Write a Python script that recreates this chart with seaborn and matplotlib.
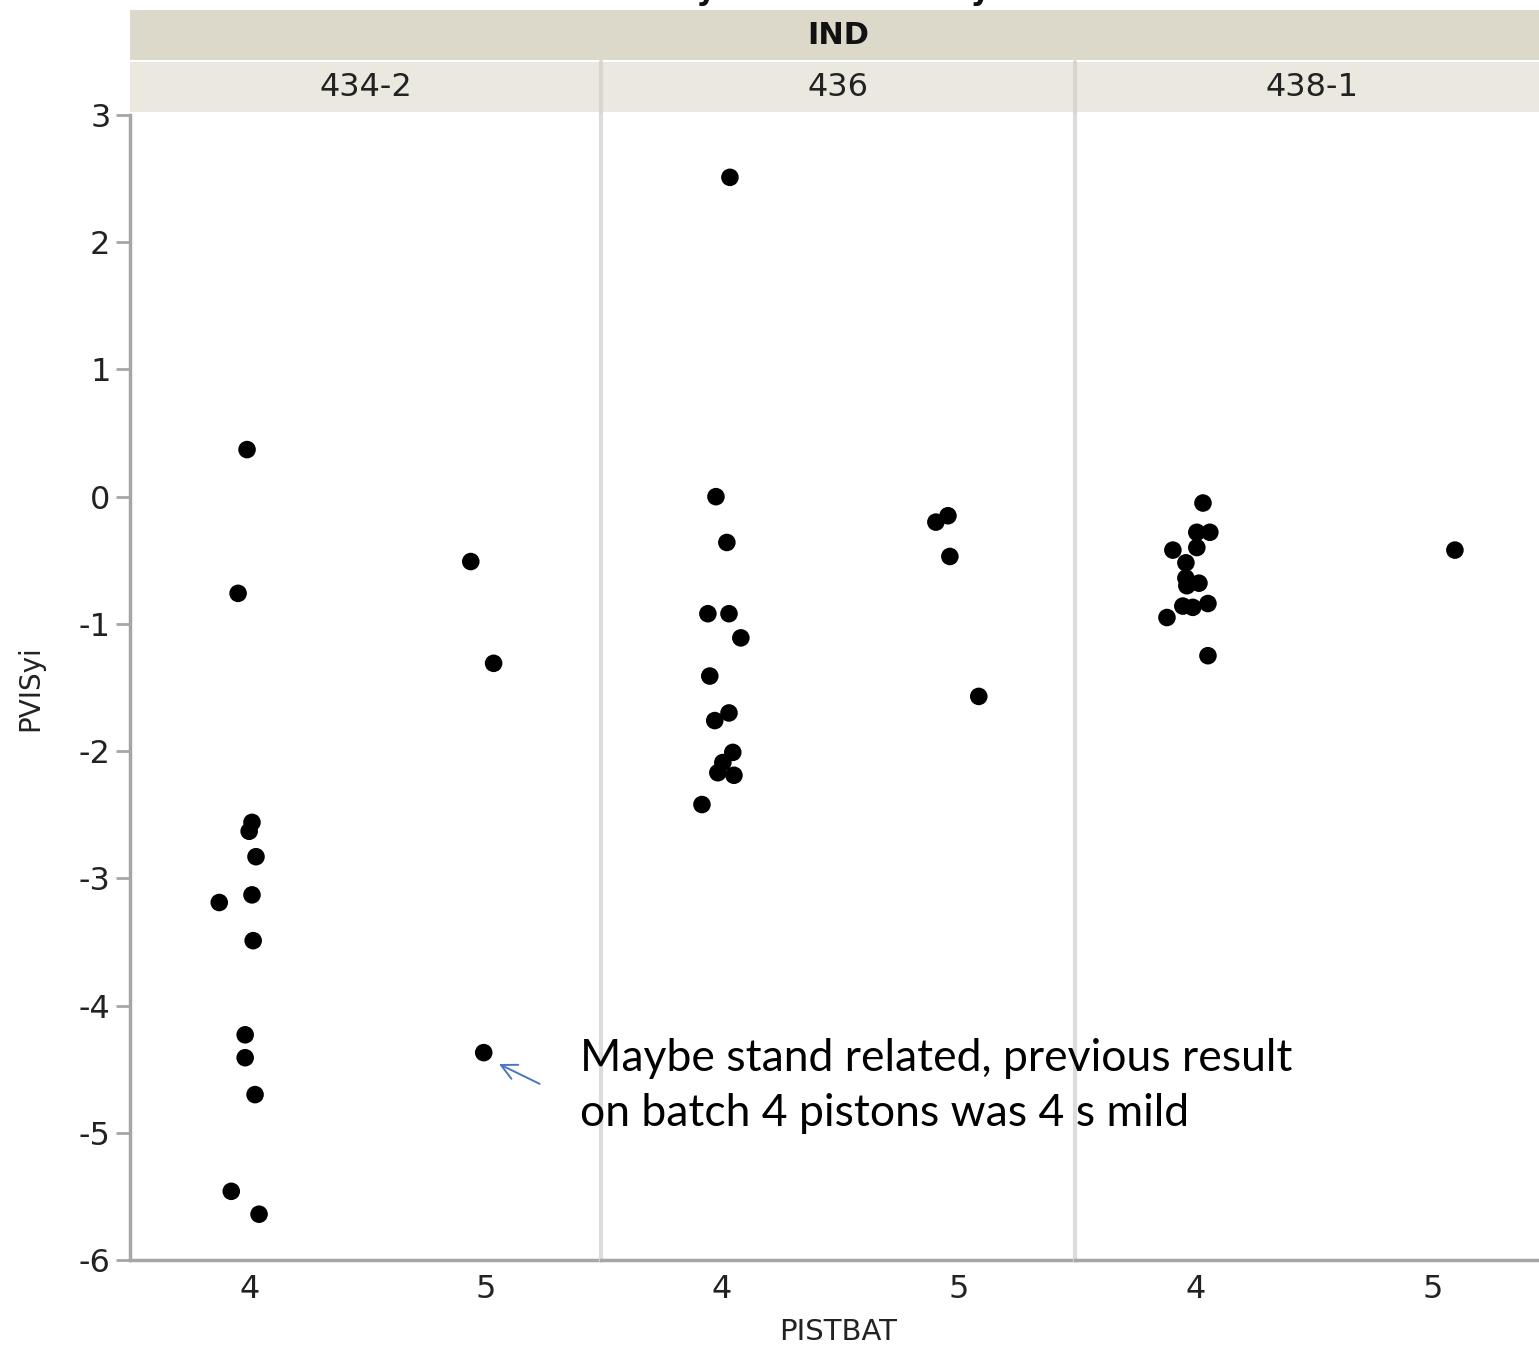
import numpy as np
import pandas as pd
import matplotlib
matplotlib.use("Agg")
import matplotlib.pyplot as plt
import seaborn as sns
from matplotlib.patches import Rectangle

sns.set_theme(style="white")
plt.rcParams['font.family'] = ['DejaVu Sans']

# ---------------- data ----------------
panels = ["434-2", "436", "438-1"]
batches = ["4", "5"]
group_header = "IND"

vals_434_2_b4 = [0.37, -0.76, -2.56, -2.63, -2.83, -3.19, -3.13, -3.49, -4.23, -4.41, -4.70, -5.46, -5.64]
jit_434_2_b4 = [-0.013, -0.051, 0.008, -0.004, 0.025, -0.131, 0.008, 0.013, -0.021, -0.021, 0.021, -0.080, 0.038]
vals_434_2_b5 = [-0.51, -1.31, -4.37]
jit_434_2_b5 = [-0.063, 0.034, -0.008]

vals_436_b4 = [2.51, 0.0, -0.36, -0.92, -0.92, -1.11, -1.41, -1.70, -1.76, -2.01, -2.09, -2.17, -2.19, -2.42]
jit_436_b4 = [0.034, -0.025, 0.021, -0.059, 0.030, 0.080, -0.051, 0.030, -0.030, 0.046, 0.004, -0.017, 0.051, -0.084]
vals_436_b5 = [-0.20, -0.15, -0.47, -1.57]
jit_436_b5 = [-0.097, -0.046, -0.038, 0.084]

vals_438_1_b4 = [-0.05, -0.28, -0.28, -0.40, -0.42, -0.52, -0.64, -0.70, -0.68, -0.86, -0.87, -0.84, -0.95, -1.25]
jit_438_1_b4 = [0.030, 0.004, 0.059, 0.004, -0.097, -0.042, -0.042, -0.038, 0.013, -0.055, -0.013, 0.051, -0.122, 0.051]
vals_438_1_b5 = [-0.42]
jit_438_1_b5 = [0.093]

y_ticks = [3, 2, 1, 0, -1, -2, -3, -4, -5, -6]
y_label = "PVISyi"
x_label = "PISTBAT"
title_text = "Variability Chart for PVISyi"
note_text = "Maybe stand related, previous result\non batch 4 pistons was 4 s mild"
note_target = ("434-2", "5", -4.37)

rows = []
for panel, sets in zip(panels, [
        [(vals_434_2_b4, jit_434_2_b4), (vals_434_2_b5, jit_434_2_b5)],
        [(vals_436_b4, jit_436_b4), (vals_436_b5, jit_436_b5)],
        [(vals_438_1_b4, jit_438_1_b4), (vals_438_1_b5, jit_438_1_b5)]]):
    for bi, (v, j) in enumerate(sets):
        for yy, jj in zip(v, j):
            rows.append({"IND": panel, "PISTBAT": batches[bi], "pos": bi + jj, "PVISyi": yy})
df = pd.DataFrame(rows)

# ---------------- layout ----------------
W, H = 1539, 1351
fig = plt.figure(figsize=(W / 100, H / 100), dpi=100)
fig.patch.set_facecolor("white")

def fx(px):
    return px / W

def fy(py):
    return 1 - py / H

top_px, bot_px = 115, 1260
edges = [130, 601, 1075, 1549]
axes = []
for i in range(3):
    l, r = edges[i], edges[i + 1]
    ax = fig.add_axes([fx(l), fy(bot_px), fx(r - l), (bot_px - top_px) / H],
                      sharey=axes[0] if axes else None)
    axes.append(ax)

light = "#dcdcdc"
dark = "#a6a6a6"
for i, (ax, panel) in enumerate(zip(axes, panels)):
    sub = df[df["IND"] == panel]
    sns.scatterplot(data=sub, x="pos", y="PVISyi", ax=ax, color="black",
                    s=160, edgecolor="none", legend=False, zorder=3, clip_on=False)
    ax.set_xlim(-0.51, 1.49)
    ax.set_ylim(-6, 3)
    ax.set_xticks([0, 1])
    ax.set_xticklabels(batches, fontsize=23, color="#222222")
    ax.tick_params(axis="x", length=0, pad=10)
    ax.set_xlabel("")
    ax.set_ylabel("")
    ax.set_facecolor("white")
    for s in ["top", "right"]:
        ax.spines[s].set_visible(False)
    ax.spines["bottom"].set_color(dark)
    ax.spines["bottom"].set_linewidth(2.5)
    if i == 0:
        ax.spines["left"].set_color(dark)
        ax.spines["left"].set_linewidth(2.5)
        ax.set_yticks(y_ticks)
        ax.set_yticklabels([str(t) for t in y_ticks], fontsize=23, color="#222222")
        ax.tick_params(axis="y", length=10, width=2, color=dark, pad=4, left=True)
    else:
        ax.spines["left"].set_color(light)
        ax.spines["left"].set_linewidth(3)
        ax.tick_params(axis="y", left=False, labelleft=False)

# header bands
fig.add_artist(Rectangle((fx(130), fy(60)), fx(1549 - 130), (60 - 10) / H,
                         transform=fig.transFigure, facecolor="#dcd9cb", edgecolor="none"))
for i in range(3):
    l, r = edges[i], edges[i + 1]
    fig.add_artist(Rectangle((fx(l), fy(112)), fx(r - l), (112 - 62) / H,
                             transform=fig.transFigure, facecolor="#ebe8e0",
                             edgecolor="none"))
    fig.text(fx((l + r) / 2), fy(87), panels[i], ha="center", va="center",
             fontsize=23, color="#222222")
for xe in edges[1:3]:
    fig.add_artist(plt.Line2D([fx(xe), fx(xe)], [fy(112), fy(62)],
                              transform=fig.transFigure, color="#d8d6cc", lw=3))
fig.text(fx(838), fy(35), group_header, ha="center", va="center",
         fontsize=22, fontweight="bold", color="#111111")

# title, clipped at the top edge as in the reference
fig.text(fx(770), fy(-8), title_text, ha="center", va="center",
         fontsize=22, fontweight="bold", color="#111111")

# axis labels
fig.text(fx(30), fy(688), y_label, rotation=90, ha="center", va="center",
         fontsize=20, color="#222222")
fig.text(fx(838), fy(1332), x_label, ha="center", va="center",
         fontsize=21, color="#222222")

# annotation
ax0 = axes[0]
ax0.annotate("", xy=(1 + 0.046, note_target[2] - 0.08), xytext=(1.24, -4.625),
             arrowprops=dict(arrowstyle="->", color="#4a76c0", lw=1.4,
                             mutation_scale=28),
             annotation_clip=False)
fig.text(fx(580), fy(1086), note_text, ha="left", va="center",
         fontsize=32, family="Lato", color="black", linespacing=1.42)

fig.savefig("out.png", dpi=100)
